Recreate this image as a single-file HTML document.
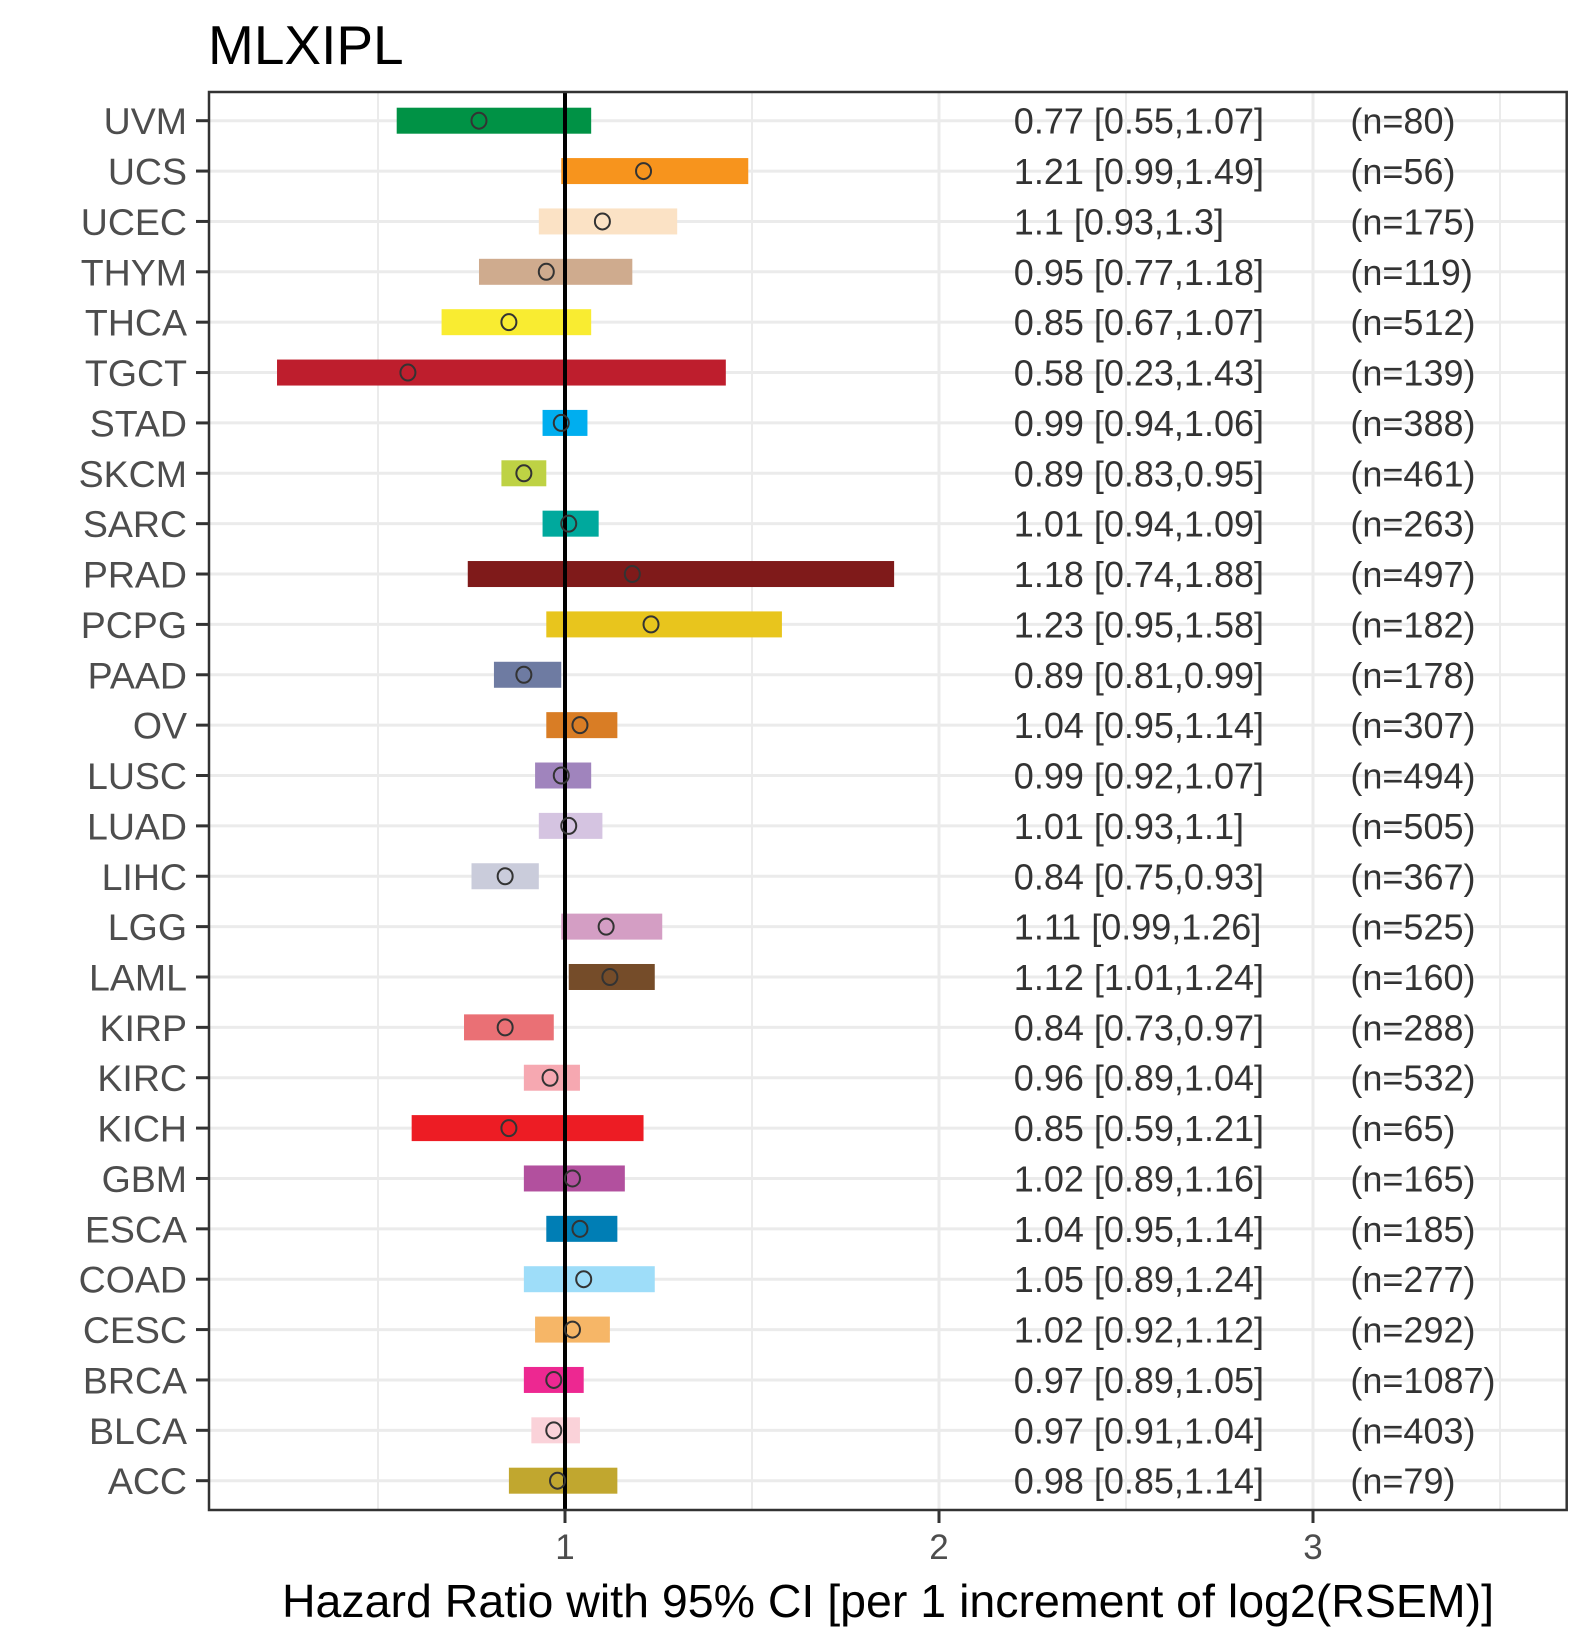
<!DOCTYPE html>
<html><head><meta charset="utf-8">
<style>
html,body{margin:0;padding:0;background:#fff;}
svg{display:block;font-family:"Liberation Sans",Arial,sans-serif;}
</style></head>
<body>
<svg id="chart" width="1590" height="1650" viewBox="0 0 1590 1650">
<text x="208" y="64" font-size="55" fill="#000">MLXIPL</text>
<g id="grid"></g>
<g id="bars"></g>
<line x1="565" x2="565" y1="92" y2="1510" stroke="#000" stroke-width="4" id="refline"/>
<g id="points"></g>
<g id="labels"></g>
<rect x="209" y="92" width="1357.7" height="1418" fill="none" stroke="#333" stroke-width="2.5"/>
<g id="axes"></g>
<text x="888" y="1617" font-size="46.5" text-anchor="middle" fill="#000">Hazard Ratio with 95% CI [per 1 increment of log2(RSEM)]</text>
</svg>
<script>
const categories = ["UVM","UCS","UCEC","THYM","THCA","TGCT","STAD","SKCM","SARC","PRAD","PCPG","PAAD","OV","LUSC","LUAD","LIHC","LGG","LAML","KIRP","KIRC","KICH","GBM","ESCA","COAD","CESC","BRCA","BLCA","ACC"];
const hr =    [0.77,1.21,1.1,0.95,0.85,0.58,0.99,0.89,1.01,1.18,1.23,0.89,1.04,0.99,1.01,0.84,1.11,1.12,0.84,0.96,0.85,1.02,1.04,1.05,1.02,0.97,0.97,0.98];
const lower = [0.55,0.99,0.93,0.77,0.67,0.23,0.94,0.83,0.94,0.74,0.95,0.81,0.95,0.92,0.93,0.75,0.99,1.01,0.73,0.89,0.59,0.89,0.95,0.89,0.92,0.89,0.91,0.85];
const upper = [1.07,1.49,1.3,1.18,1.07,1.43,1.06,0.95,1.09,1.88,1.58,0.99,1.14,1.07,1.1,0.93,1.26,1.24,0.97,1.04,1.21,1.16,1.14,1.24,1.12,1.05,1.04,1.14];
const ciText = ["0.77 [0.55,1.07]","1.21 [0.99,1.49]","1.1 [0.93,1.3]","0.95 [0.77,1.18]","0.85 [0.67,1.07]","0.58 [0.23,1.43]","0.99 [0.94,1.06]","0.89 [0.83,0.95]","1.01 [0.94,1.09]","1.18 [0.74,1.88]","1.23 [0.95,1.58]","0.89 [0.81,0.99]","1.04 [0.95,1.14]","0.99 [0.92,1.07]","1.01 [0.93,1.1]","0.84 [0.75,0.93]","1.11 [0.99,1.26]","1.12 [1.01,1.24]","0.84 [0.73,0.97]","0.96 [0.89,1.04]","0.85 [0.59,1.21]","1.02 [0.89,1.16]","1.04 [0.95,1.14]","1.05 [0.89,1.24]","1.02 [0.92,1.12]","0.97 [0.89,1.05]","0.97 [0.91,1.04]","0.98 [0.85,1.14]"];
const nText = ["(n=80)","(n=56)","(n=175)","(n=119)","(n=512)","(n=139)","(n=388)","(n=461)","(n=263)","(n=497)","(n=182)","(n=178)","(n=307)","(n=494)","(n=505)","(n=367)","(n=525)","(n=160)","(n=288)","(n=532)","(n=65)","(n=165)","(n=185)","(n=277)","(n=292)","(n=1087)","(n=403)","(n=79)"];
const colors = ["#009245","#F7941D","#FBE2C5","#CFAB8E","#F9EC31","#BE1E2D","#00AEEF","#BED244","#00A99D","#7F1A1A","#E8C51D","#6E7BA2","#D97D25","#A084BD","#D5C4E1","#CACCDB","#D49EC4","#754C29","#EA7075","#F6A8B1","#ED1C24","#B2509E","#007EB5","#9EDDF9","#F6B667","#ED2891","#FAD2D9","#C1A72F"];
const majorTicks = [1,2,3];
const minorTicks = [0.5,1.5,2.5,3.5];
const ciPos = 2.2, nPos = 3.1;

const NS="http://www.w3.org/2000/svg";
const X0=191, XU=374, Y0=120.7, YS=50.37;
function xs(v){return X0+XU*v;}
function ys(i){return Y0+YS*i;}
function mk(tag,attrs,parent,txt){const e=document.createElementNS(NS,tag);for(const k in attrs)e.setAttribute(k,attrs[k]);if(txt!==undefined)e.textContent=txt;parent.appendChild(e);return e;}
const grid=document.getElementById('grid'),bars=document.getElementById('bars'),pts=document.getElementById('points'),lab=document.getElementById('labels'),axes=document.getElementById('axes');
document.getElementById('refline').setAttribute('x1',xs(1));
document.getElementById('refline').setAttribute('x2',xs(1));
minorTicks.forEach(v=>{const e=mk('line',{x1:xs(v),x2:xs(v),y1:92,y2:1510,stroke:'#ebebeb','stroke-width':2},grid);

});
majorTicks.forEach(v=>{const e=mk('line',{x1:xs(v),x2:xs(v),y1:92,y2:1510,stroke:'#ebebeb','stroke-width':3},grid);


const t=mk('line',{x1:xs(v),x2:xs(v),y1:1510,y2:1523,stroke:'#333','stroke-width':3},axes);


const l=mk('text',{x:xs(v),y:1559,'font-size':35,'text-anchor':'middle',fill:'#4d4d4d'},axes,String(v));

});
categories.forEach((c,i)=>{const y=ys(i);
const g=mk('line',{x1:209,x2:1566,y1:y,y2:y,stroke:'#ebebeb','stroke-width':3},grid);


const b=mk('rect',{x:xs(lower[i]),y:y-13,width:xs(upper[i])-xs(lower[i]),height:26,fill:colors[i]},bars);


const p=mk('ellipse',{cx:xs(hr[i]),cy:y,rx:7.5,ry:8,fill:'none',stroke:'#333','stroke-width':2},pts);


const t=mk('line',{x1:196,x2:209,y1:y,y2:y,stroke:'#333','stroke-width':3},axes);


const yl=mk('text',{x:187,y:y+13.5,'font-size':37.5,'text-anchor':'end',fill:'#4d4d4d'},axes,c);


const ct=mk('text',{x:xs(ciPos),y:y+13,'font-size':36,fill:'#333'},lab,ciText[i]);


const nt=mk('text',{x:xs(nPos),y:y+13,'font-size':36,fill:'#333'},lab,nText[i]);


});
</script>
</body></html>
